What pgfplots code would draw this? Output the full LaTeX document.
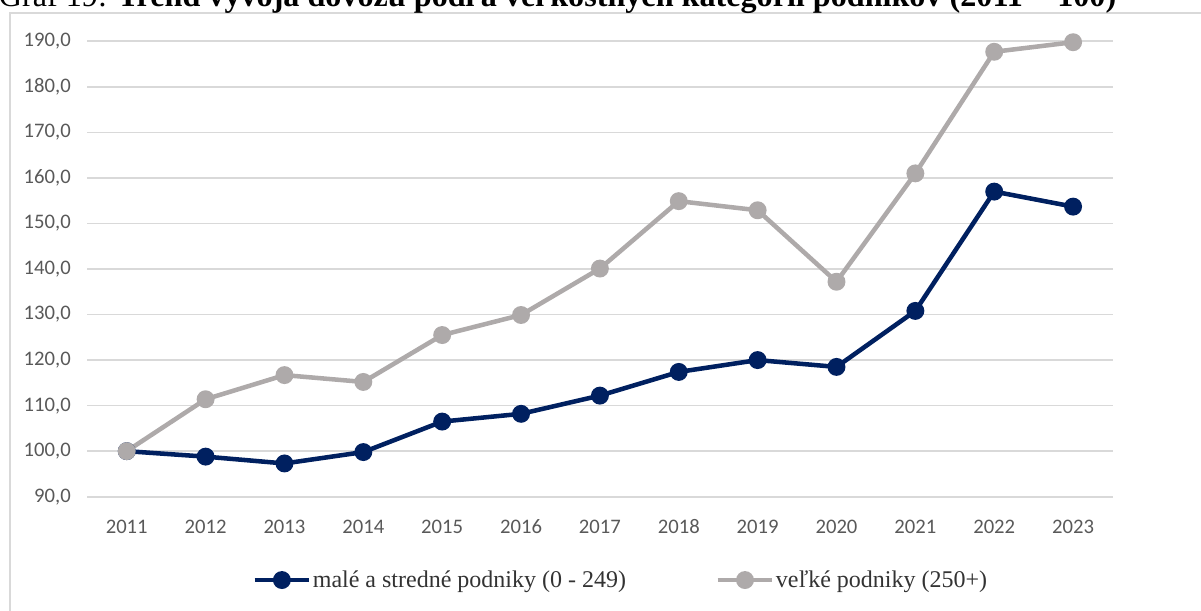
\documentclass[border=0pt]{standalone}
\usepackage{fontspec}
\setmainfont{Liberation Serif}
\newfontfamily\carlito{Carlito}
\usepackage{pgfplots}
\pgfplotsset{compat=1.18}
\definecolor{navyblue}{HTML}{002060}
\definecolor{lgray}{HTML}{AEAAAA}
\definecolor{gridgray}{HTML}{D9D9D9}
\definecolor{tickgray}{HTML}{595959}
\begin{document}
\begin{tikzpicture}
\useasboundingbox (0,0) rectangle (900.75pt,-457.5pt);
\clip (0,0) rectangle (900.75pt,-457.5pt);
\draw[gridgray, line width=1.5pt] (7.5pt,-470pt) -- (7.5pt,-9.75pt) -- (910pt,-9.75pt);
\node[anchor=base west, inner sep=0pt, text=black] at (-1pt,-5pt) {\resizebox{838pt}{!}{Graf 19: \textbf{Trend vývoja dovozu podľa veľkostných kategórií podnikov (2011 = 100)}}};
\begin{axis}[
  at={(65.475pt,-372.525pt)}, anchor=south west,
  scale only axis, width=768.9pt, height=341.55pt,
  xmin=-0.5, xmax=12.5, ymin=90, ymax=190,
  ytick={90,100,...,190},
  xtick={0,...,12},
  xticklabels={2011,2012,2013,2014,2015,2016,2017,2018,2019,2020,2021,2022,2023},
  /pgf/number format/assume math mode=true,
  yticklabel={\pgfmathprintnumber[fixed,fixed zerofill,precision=1,use comma]{\tick}},
  ticklabel style={font=\carlito\fontsize{15.5}{18}\selectfont, text=tickgray},
  yticklabel style={anchor=east, inner sep=0pt, xshift=-12.2pt},
  xticklabel style={anchor=base, inner sep=0pt, yshift=-27.6pt},
  axis line style={draw=none},
  major tick style={draw=none},
  ymajorgrids, grid style={gridgray, line width=1.3pt},
  clip=false,
  legend style={at={(0.52,-0.183)}, anchor=center, draw=none, fill=none,
    legend columns=2, font=\fontsize{18}{21}\selectfont, text=black!80,
    nodes={inner xsep=1pt},
    /tikz/every even column/.append style={column sep=66pt}},
  legend cell align=left,
  legend image code/.code={\draw[mark repeat=2,mark phase=2,#1] plot coordinates {(0pt,0pt) (20.5pt,0pt) (41pt,0pt)};},
]
\addplot[navyblue, line width=3.4pt, mark=*, mark size=5pt, mark options={solid}] coordinates {
(0,100) (1,98.8) (2,97.3) (3,99.8) (4,106.5) (5,108.2) (6,112.2) (7,117.4) (8,120.0) (9,118.5) (10,130.8) (11,157.0) (12,153.7)};
\addlegendentry{malé a stredné podniky (0 - 249)}
\addplot[lgray, line width=3.4pt, mark=*, mark size=5pt, mark options={solid}] coordinates {
(0,100) (1,111.4) (2,116.7) (3,115.2) (4,125.5) (5,129.9) (6,140.1) (7,154.9) (8,152.9) (9,137.2) (10,161.0) (11,187.7) (12,189.8)};
\addlegendentry{veľké podniky (250+)}
\end{axis}
\end{tikzpicture}
\end{document}
